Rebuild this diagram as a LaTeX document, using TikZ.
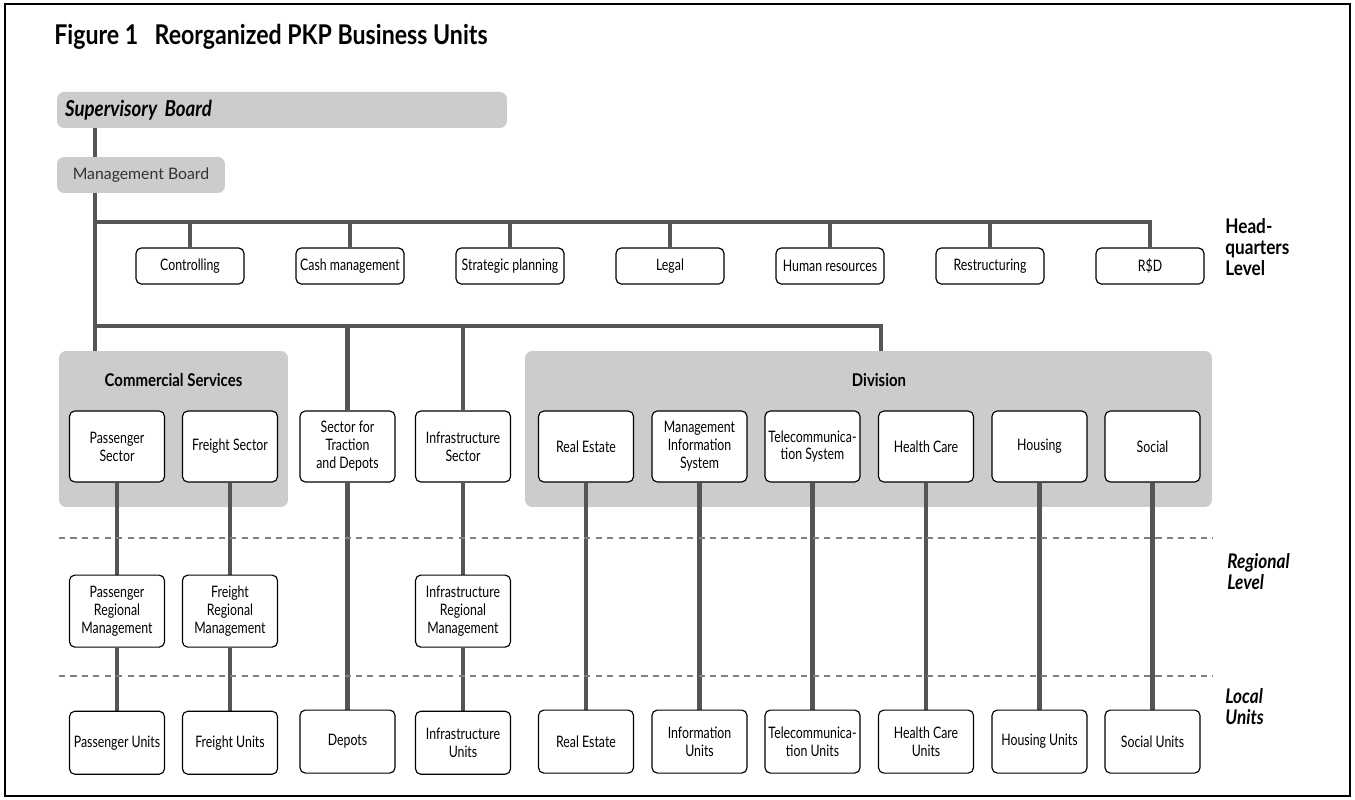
\documentclass[tikz,border=0pt]{standalone}
\usepackage{fontspec}
\setmainfont{Lato}
\newfontfamily\boxfont[FakeStretch=0.78]{Lato}
\newfontfamily\headfont[FakeStretch=0.85]{Lato}
\usetikzlibrary{positioning,backgrounds}

\definecolor{panelgray}{HTML}{CCCCCC}
\definecolor{wiregray}{HTML}{555555}
\definecolor{levelgray}{HTML}{808080}

\begin{document}
\begin{tikzpicture}[x=0.02cm, y=-0.02cm,
	unitbox/.style  = {draw, line width=0.65pt, rounded corners=3pt, fill=white, align=center, inner sep=1pt,
	                   font=\boxfont\fontsize{9}{10.2}\selectfont},
	hqbox/.style    = {unitbox, minimum width=2.16cm, minimum height=0.72cm},
	secbox/.style   = {unitbox, minimum width=1.9cm, minimum height=1.42cm},
	regbox/.style   = {unitbox, minimum width=1.9cm, minimum height=1.44cm},
	locbox/.style   = {unitbox, minimum width=1.9cm, minimum height=1.26cm},
	groupbox/.style = {fill=panelgray, rounded corners=4pt, inner sep=0pt},
	grouptitle/.style = {inner sep=0pt, font=\headfont\bfseries\fontsize{10}{12}\selectfont},
	levellabel/.style = {anchor=west, align=left, inner sep=0pt, font=\headfont\bfseries\fontsize{11.5}{12}\selectfont},
	wire/.style     = {line width=2.7pt, draw=wiregray},
	levelline/.style = {draw=levelgray, line width=0.7pt, dash pattern=on 3.5pt off 3pt}]

	\useasboundingbox (0,0) rectangle (1355,800);
	\draw[line width=0.8pt] (5,4) rectangle (1350,796);

	% title and boards
	\node[anchor=west, inner sep=0pt, font=\headfont\bfseries\fontsize{15.5}{18}\selectfont] (title) at (54,37)
		{Figure 1\hspace{0.6em}Reorganized PKP Business Units};
	\node[groupbox, minimum height=0.72cm, text width=8.68cm, inner xsep=0.16cm, align=left,
		font=\headfont\bfseries\itshape\fontsize{12.5}{14}\selectfont] (sb) at (282,110) {Supervisory Board};
	\node[groupbox, minimum width=3.36cm, minimum height=0.72cm, text=black!80,
		font=\fontsize{9}{11}\selectfont] (mb) at (141,175) {Management Board};

	% headquarters level, one row
	\foreach \name/\txt [count=\i from 0] in {ctrl/Controlling, cash/Cash management, strat/Strategic planning,
		legal/Legal, hr/Human resources, restr/Restructuring, rd/R\$D}
		\node[hqbox] (\name) at (190+160*\i, 266) {\txt};

	% grey panels for the two groups
	\begin{scope}[on background layer]
		\node[groupbox, minimum width=4.58cm, minimum height=3.12cm] (cs) at (173.5,429) {};
		\node[groupbox, minimum width=13.74cm, minimum height=3.12cm] (div) at (868.5,429) {};
	\end{scope}
	\node[grouptitle] (cstitle) at (173.5,380) {Commercial Services};
	\node[grouptitle] (divtitle) at (879,380) {Division};

	% sector row
	\node[secbox] (ps) at (117,446.5) {Passenger\\Sector};
	\node[secbox] (fs) at (230,446.5) {Freight Sector};
	\node[secbox] (trac) at (347.5,446.5) {Sector for\\Traction\\and Depots};
	\node[secbox] (infra) at (463,446.5) {Infrastructure\\Sector};
	\node[secbox] (re) at (586,446.5) {Real Estate};
	\node[secbox] (mis) at (699.5,446.5) {Management\\Information\\System};
	\node[secbox] (tel) at (812.5,446.5) {Telecommunica-\\tion System};
	\node[secbox] (hc) at (926,446.5) {Health Care};
	\node[secbox] (hous) at (1039.5,446.5) {Housing};
	\node[secbox] (soc) at (1152.5,446.5) {Social};

	% regional level
	\node[regbox, below=1.84cm of ps] (prm) {Passenger\\Regional\\Management};
	\node[regbox, below=1.84cm of fs] (frm) {Freight\\Regional\\Management};
	\node[regbox, below=1.84cm of infra] (irm) {Infrastructure\\Regional\\Management};

	% local units
	\node[locbox, below=1.26cm of prm] (pu) {Passenger Units};
	\node[locbox, below=1.26cm of frm] (fu) {Freight Units};
	\node[locbox, below=4.54cm of trac] (dep) {Depots};
	\node[locbox, below=1.26cm of irm] (iu) {Infrastructure\\Units};
	\node[locbox, below=4.54cm of re] (reu) {Real Estate};
	\node[locbox, below=4.54cm of mis] (inu) {Information\\Units};
	\node[locbox, below=4.54cm of tel] (telu) {Telecommunica-\\tion Units};
	\node[locbox, below=4.54cm of hc] (hcu) {Health Care\\Units};
	\node[locbox, below=4.54cm of hous] (housu) {Housing Units};
	\node[locbox, below=4.54cm of soc] (socu) {Social Units};

	% level labels on the right
	\node[levellabel] (lhq) at (1225,247) {Head-\\quarters\\Level};
	\node[levellabel, font=\headfont\bfseries\itshape\fontsize{11.5}{12}\selectfont] (lreg) at (1227,572) {Regional\\Level};
	\node[levellabel, font=\headfont\bfseries\itshape\fontsize{11.5}{12}\selectfont] (lloc) at (1225,707) {Local\\Units};

	\coordinate (hqbus) at (95,222);
	\coordinate (secbus) at (95,326);
	\coordinate (divtop) at (881,351);
	\coordinate (reg0) at (59,538);
	\coordinate (reg1) at (1213,538);
	\coordinate (loc0) at (59,676);
	\coordinate (loc1) at (1213,676);

	% connectors, behind the boxes
	\begin{scope}[on background layer]
		\draw[wire] (sb.south -| hqbus) -- (cs.north -| hqbus);
		\draw[wire] (hqbus) -| (rd.north);
		\foreach \b in {ctrl,cash,strat,legal,hr,restr}
		\draw[wire] (\b.north) -- (\b.north |- hqbus);

		\draw[wire] (secbus) -| (divtop);
		\foreach \b in {trac,infra}
		\draw[wire] (\b.north) -- (\b.north |- secbus);

		\foreach \a/\b in {ps/prm, prm/pu, fs/frm, frm/fu, trac/dep, infra/irm, irm/iu,
			re/reu, mis/inu, tel/telu, hc/hcu, hous/housu, soc/socu}
		\draw[wire] (\a.south) -- (\b.north);

		\draw[levelline] (reg0) -- (reg1);
		\draw[levelline] (loc0) -- (loc1);
	\end{scope}

\end{tikzpicture}
\end{document}
